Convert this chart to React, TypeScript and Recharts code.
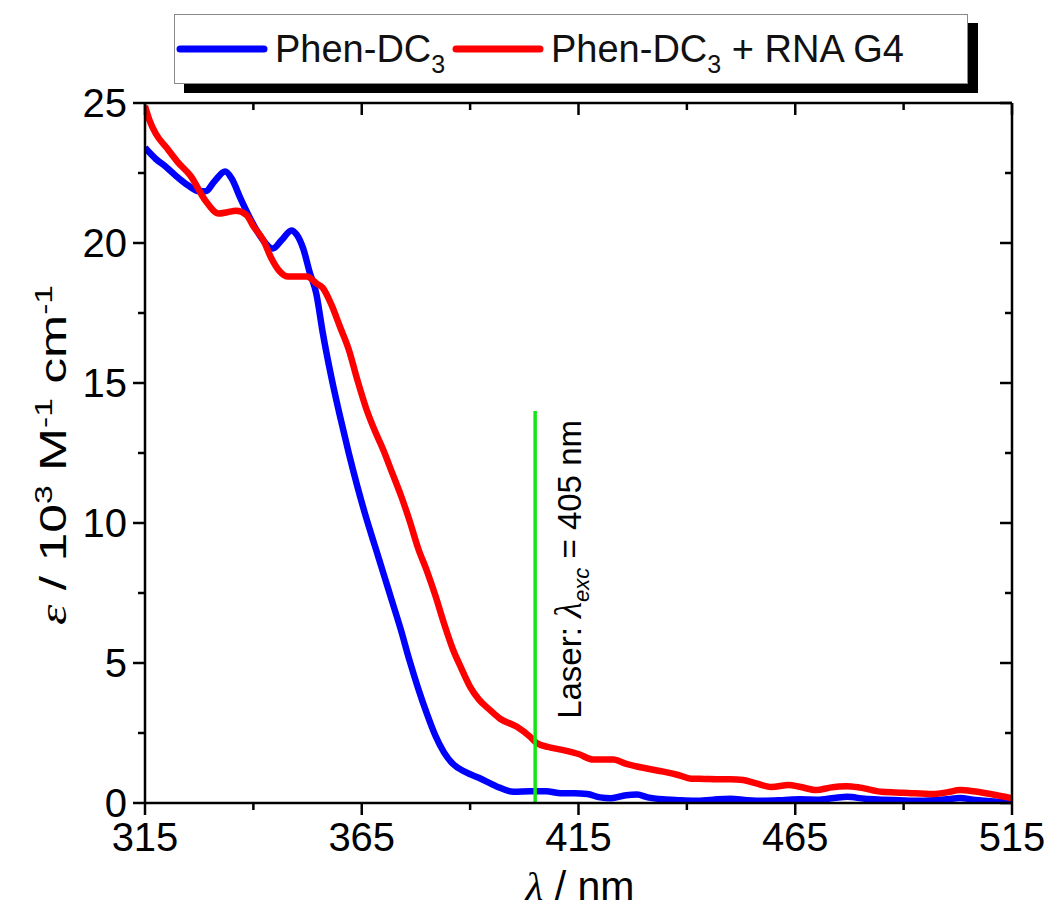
import { LineChart, Line, XAxis, YAxis, ReferenceLine, Legend } from "recharts";

// Phen-DC3 alone (blue)
const phenNm = [
  315, 317.5, 320, 322.5, 325, 327.5, 329, 331, 333.5, 335, 337, 339.5, 342, 344.5, 346.5, 348.8, 350,
  351.5, 353, 354.5, 356, 358, 360, 362, 364, 366, 368, 370, 372, 374, 376, 378, 380, 382, 384, 386, 389,
  392, 396, 400, 404, 407.5, 411, 414, 417, 420, 422.5, 426, 428.5, 431, 434.5, 438, 442, 446, 450, 454,
  458, 462, 466, 470, 474, 477, 481, 485, 489, 493, 497, 500, 503, 506, 510, 515,
];
const phenEps = [
  23.4, 23.0, 22.7, 22.35, 22.05, 21.85, 21.85, 22.2, 22.55, 22.3, 21.6, 20.8, 20.15, 19.8, 20.1, 20.45, 20.3,
  19.8, 18.95, 18.2, 16.8, 15.2, 13.8, 12.5, 11.3, 10.2, 9.2, 8.2, 7.2, 6.2, 5.1, 4.1, 3.2, 2.4, 1.8, 1.4, 1.1,
  0.9, 0.6, 0.4, 0.42, 0.42, 0.35, 0.35, 0.32, 0.2, 0.17, 0.28, 0.3, 0.2, 0.13, 0.1, 0.08, 0.12, 0.15, 0.1,
  0.08, 0.1, 0.13, 0.12, 0.18, 0.22, 0.15, 0.12, 0.1, 0.08, 0.1, 0.13, 0.18, 0.12, 0.06, 0.01,
];

// Phen-DC3 + RNA G4 (red)
const rnaNm = [
  315, 316, 317.5, 320, 322.5, 325.5, 329, 332, 334, 336, 338.4, 340, 342.3, 344, 346, 348, 350, 352.3,
  354.6, 356, 358, 360, 362, 364, 366, 368, 370, 372, 374, 376, 378, 380, 382, 384, 386, 388, 390, 392,
  394.6, 397, 400.7, 403.8, 405.3, 408, 411.5, 415, 418.4, 421, 423, 426, 430.5, 434.6, 438, 441, 444,
  447, 450, 453, 456, 459.5, 463.5, 466, 469.9, 473, 476.8, 480, 485, 490, 496.8, 500, 503, 506, 510, 515,
];
const rnaEps = [
  24.9, 24.4, 23.9, 23.4, 22.9, 22.4, 21.5, 21.05, 21.1, 21.15, 21.0, 20.6, 20.1, 19.5, 19.0, 18.8, 18.8, 18.8,
  18.55, 18.4, 17.8, 17.0, 16.2, 15.1, 14.1, 13.3, 12.6, 11.8, 11.0, 10.1, 9.1, 8.3, 7.4, 6.4, 5.5, 4.8, 4.15, 3.7,
  3.32, 3.0, 2.73, 2.37, 2.15, 2.0, 1.89, 1.75, 1.55, 1.55, 1.55, 1.4, 1.24, 1.12, 1.0, 0.87, 0.86,
  0.85, 0.85, 0.82, 0.7, 0.57, 0.64, 0.58, 0.46, 0.55, 0.6, 0.55, 0.4, 0.37, 0.32, 0.38, 0.46, 0.42, 0.32, 0.17,
];

const xTicks = [315, 340, 365, 390, 415, 440, 465, 490, 515];
const xMajor = [315, 365, 415, 465, 515];
const yTicks = [0, 2.5, 5, 7.5, 10, 12.5, 15, 17.5, 20, 22.5, 25];
const yMajor = [0, 5, 10, 15, 20, 25];

const laserNm = 405;
const laserTop = 14;

const legendSuffix = ["", " + RNA G4"];

const phenData = phenNm.map((nm, i) => ({ nm, eps: phenEps[i] }));
const rnaData = rnaNm.map((nm, i) => ({ nm, eps: rnaEps[i] }));

const SANS = "'Liberation Sans', Arial, sans-serif";
const SERIF = "'Liberation Serif', 'Times New Roman', serif";
const AXIS = { stroke: "#000", strokeWidth: 2.5 };

function BottomTick({ x, y, payload }: any) {
  const major = xMajor.includes(payload.value);
  return (
    <g>
      <line x1={x} x2={x} y1={y} y2={y + (major ? 12 : 7)} stroke="#000" strokeWidth={2.5} />
      {major && (
        <text x={x} y={y + 48} textAnchor="middle" fontSize={40} fontFamily={SANS} fill="#000">
          {payload.value}
        </text>
      )}
    </g>
  );
}

function TopTick({ x, y, payload }: any) {
  const major = xMajor.includes(payload.value);
  return <line x1={x} x2={x} y1={y} y2={y + (major ? 12 : 7)} stroke="#000" strokeWidth={2.5} />;
}

function LeftTick({ x, y, payload }: any) {
  const major = yMajor.includes(payload.value);
  return (
    <g>
      <line x1={x} x2={x - (major ? 12 : 7)} y1={y} y2={y} stroke="#000" strokeWidth={2.5} />
      {major && (
        <text x={x - 18} y={y + 14} textAnchor="end" fontSize={40} fontFamily={SANS} fill="#000">
          {payload.value}
        </text>
      )}
    </g>
  );
}

function RightTick({ x, y, payload }: any) {
  const major = yMajor.includes(payload.value);
  return <line x1={x} x2={x - (major ? 12 : 7)} y1={y} y2={y} stroke="#000" strokeWidth={2.5} />;
}

function XTitle() {
  return (
    <text x={580} y={900} textAnchor="middle" fontSize={41} fontFamily={SANS} fill="#000">
      <tspan fontFamily={SERIF} fontStyle="italic">λ</tspan>
      {" / nm"}
    </text>
  );
}

function YTitle() {
  const cx = 66;
  const cy = 455;
  return (
    <text
      x={cx}
      y={cy}
      transform={`rotate(-90, ${cx}, ${cy})`}
      textAnchor="middle"
      fontSize={37}
      textLength={340}
      lengthAdjust="spacingAndGlyphs"
      fontFamily={SANS}
      fill="#000"
    >
      <tspan fontFamily={SERIF} fontStyle="italic">ε</tspan>
      <tspan>{" / 10"}</tspan>
      <tspan dy={-14} fontSize={24}>3</tspan>
      <tspan dy={14}>{" M"}</tspan>
      <tspan dy={-14} fontSize={24}>-1</tspan>
      <tspan dy={14}>{" cm"}</tspan>
      <tspan dy={-14} fontSize={24}>-1</tspan>
    </text>
  );
}

function LaserLabel({ viewBox }: any) {
  const x = (viewBox?.x ?? 537) + 46;
  const y = (viewBox?.y ?? 411) + 9;
  return (
    <text
      x={x}
      y={y}
      transform={`rotate(-90, ${x}, ${y})`}
      textAnchor="end"
      fontSize={33}
      fontFamily={SANS}
      fill="#000"
    >
      {"Laser: "}
      <tspan fontFamily={SERIF} fontStyle="italic" fontSize={37}>λ</tspan>
      <tspan dy={8} fontSize={22} fontStyle="italic">exc</tspan>
      <tspan dy={-8}>{" = 405 nm"}</tspan>
    </text>
  );
}

function LegendBox({ payload }: any) {
  const items = payload ?? [];
  const starts = [1, 277];
  return (
    <div
      style={{
        width: 794,
        height: 70,
        boxSizing: "border-box",
        border: "1.5px solid #8a8a8a",
        background: "#fff",
        boxShadow: "10px 9px 0 #000",
      }}
    >
      <svg width={791} height={67}>
        {items.map((item: any, i: number) => {
          const x0 = starts[i] ?? 1;
          return (
            <g key={i}>
              <line
                x1={x0 + 4}
                x2={x0 + 88}
                y1={34}
                y2={34}
                stroke={item.color}
                strokeWidth={7}
                strokeLinecap="round"
              />
              <text x={x0 + 99} y={47} fontSize={38} fontFamily={SANS} fill="#111">
                {"Phen-DC"}
                <tspan dy={11} fontSize={25}>3</tspan>
                <tspan dy={-11}>{legendSuffix[i] ?? ""}</tspan>
              </text>
            </g>
          );
        })}
      </svg>
    </div>
  );
}

export default function App() {
  return (
    <div style={{ position: "absolute", left: 0, top: 0, background: "#fff" }}>
      <LineChart width={1051} height={918} margin={{ top: 73, right: 9, bottom: 55, left: 45 }}>
        <XAxis
          xAxisId={0}
          type="number"
          dataKey="nm"
          domain={[315, 515]}
          allowDataOverflow
          ticks={xTicks}
          interval={0}
          height={60}
          tickSize={0}
          tickMargin={0}
          tickLine={false}
          axisLine={AXIS}
          tick={<BottomTick />}
          label={<XTitle />}
        />
        <XAxis
          xAxisId="top"
          orientation="top"
          type="number"
          dataKey="nm"
          domain={[315, 515]}
          allowDataOverflow
          ticks={xTicks}
          interval={0}
          height={30}
          tickSize={0}
          tickMargin={0}
          tickLine={false}
          axisLine={AXIS}
          tick={<TopTick />}
        />
        <YAxis
          yAxisId={0}
          type="number"
          domain={[0, 25]}
          allowDataOverflow
          ticks={yTicks}
          interval={0}
          width={100}
          tickSize={0}
          tickMargin={0}
          tickLine={false}
          axisLine={AXIS}
          tick={<LeftTick />}
          label={<YTitle />}
        />
        <YAxis
          yAxisId="right"
          orientation="right"
          type="number"
          domain={[0, 25]}
          allowDataOverflow
          ticks={yTicks}
          interval={0}
          width={30}
          tickSize={0}
          tickMargin={0}
          tickLine={false}
          axisLine={AXIS}
          tick={<RightTick />}
        />
        <Legend
          layout="horizontal"
          verticalAlign="middle"
          align="center"
          wrapperStyle={{ position: "absolute", left: 174, top: 14, width: 794, height: 70 }}
          content={<LegendBox />}
        />
        <Line
          data={phenData}
          dataKey="eps"
          name="Phen-DC3"
          type="monotone"
          stroke="#0000ff"
          strokeWidth={6.5}
          dot={false}
          activeDot={false}
          isAnimationActive={false}
        />
        <Line
          data={rnaData}
          dataKey="eps"
          name="Phen-DC3 + RNA G4"
          type="monotone"
          stroke="#ff0000"
          strokeWidth={6.5}
          dot={false}
          activeDot={false}
          isAnimationActive={false}
        />
        <ReferenceLine
          segment={[
            { x: laserNm, y: 0 },
            { x: laserNm, y: laserTop },
          ]}
          stroke="#14e614"
          strokeWidth={3.5}
          label={<LaserLabel />}
        />
      </LineChart>
    </div>
  );
}
